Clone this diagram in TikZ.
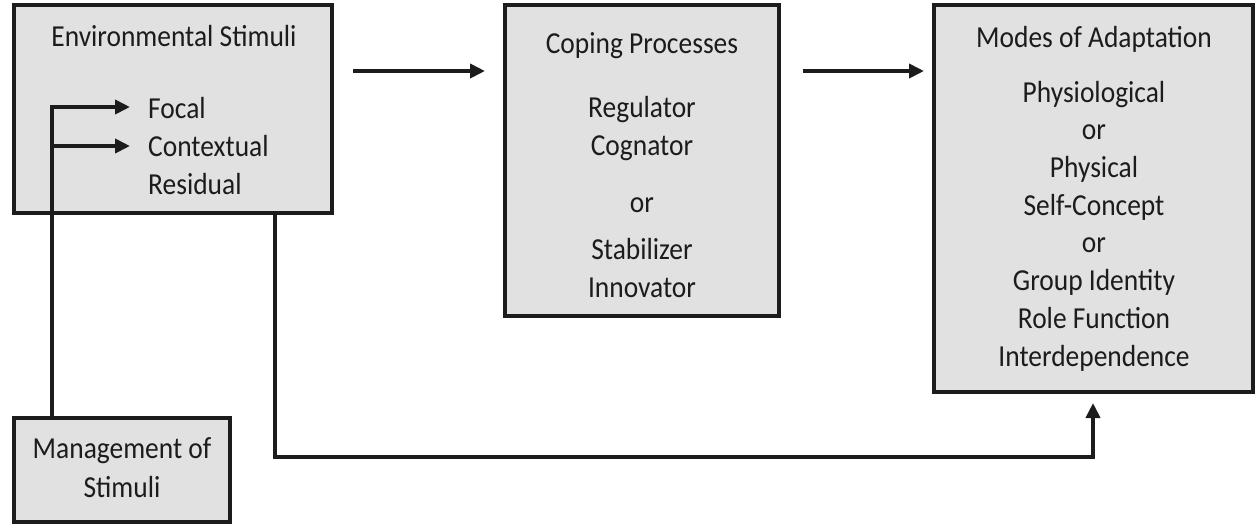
\documentclass[tikz,border=0pt]{standalone}
\usepackage{fontspec}
\setmainfont{Carlito}[FakeStretch=0.9]
\usetikzlibrary{arrows.meta,calc}
\definecolor{boxfill}{HTML}{E1E1E1}
\definecolor{ink}{HTML}{1C1C1C}
\begin{document}
\begin{tikzpicture}[x=1pt,y=-1pt]
\tikzset{
 boxnode/.style={draw=ink, fill=boxfill, line width=3.5pt, inner sep=0pt, outer sep=0pt},
 txt/.style={anchor=base, inner sep=0pt, text=ink, font=\fontsize{30.5}{36}\selectfont},
 txtl/.style={txt, anchor=base west},
 link/.style={draw=ink, line width=3.8pt},
 arr/.style={link, -{Triangle[length=15pt,width=14pt]}},
}
\useasboundingbox (0,0) rectangle (1257,528);
% boxes
\node[boxnode, minimum width=318pt, minimum height=208pt] (env) at (173,109) {};
\node[boxnode, minimum width=274pt, minimum height=311pt] (cop) at (642,160.5) {};
\node[boxnode, minimum width=319pt, minimum height=387pt] (modes) at (1093.5,198.5) {};
\node[boxnode, minimum width=216pt, minimum height=104pt] (mgmt) at (122,470) {};
% environmental stimuli
\node[txt] (envT) at (174,46) {Environmental Stimuli};
\node[txtl] (focal) at (148,118) {Focal};
\node[txtl] (contextual) at (148,156) {Contextual};
\node[txtl] (residual) at (148,194) {Residual};
% coping
\node[txt] (copT) at (642,53) {Coping Processes};
\node[txt] (cop1) at (642,117) {Regulator};
\node[txt] (cop2) at (642,155) {Cognator};
\node[txt] (cop3) at (642,212) {or};
\node[txt] (cop4) at (642,259) {Stabilizer};
\node[txt] (cop5) at (642,297) {Innovator};
% modes
\node[txt] (modT) at (1094,47) {Modes of Adaptation};
\node[txt] (mod1) at (1094,102) {Physiological};
\node[txt] (mod2) at (1094,139.5) {or};
\node[txt] (mod3) at (1094,177) {Physical};
\node[txt] (mod4) at (1094,215) {Self-Concept};
\node[txt] (mod5) at (1094,252.5) {or};
\node[txt] (mod6) at (1094,290) {Group Identity};
\node[txt] (mod7) at (1094,328) {Role Function};
\node[txt] (mod8) at (1094,366) {Interdependence};
% management
\node[txt] (mg1) at (122,458) {Management of};
\node[txt] (mg2) at (122,497) {Stimuli};
% connectors
\coordinate (r1) at (0,71);
\draw[arr, shorten <=21pt, shorten >=20pt] (env.east |- r1) -- (cop.west |- r1);
\draw[arr, shorten <=24pt, shorten >=10pt] (cop.east |- r1) -- (modes.west |- r1);
\coordinate (b1) at (275,457);
\coordinate (b2) at (1093,457);
\draw[arr, shorten >=11pt] (env.south -| b1) -- (b1) -- (b2) -- (modes.south -| b2);
\coordinate (f0) at (52,107);
\coordinate (c0) at (52,146);
\draw[arr, shorten >=18pt] (mgmt.north -| f0) -- (f0) -- (f0 -| focal.west);
\draw[arr, shorten >=18pt] (c0) -- (c0 -| contextual.west);
\end{tikzpicture}
\end{document}
